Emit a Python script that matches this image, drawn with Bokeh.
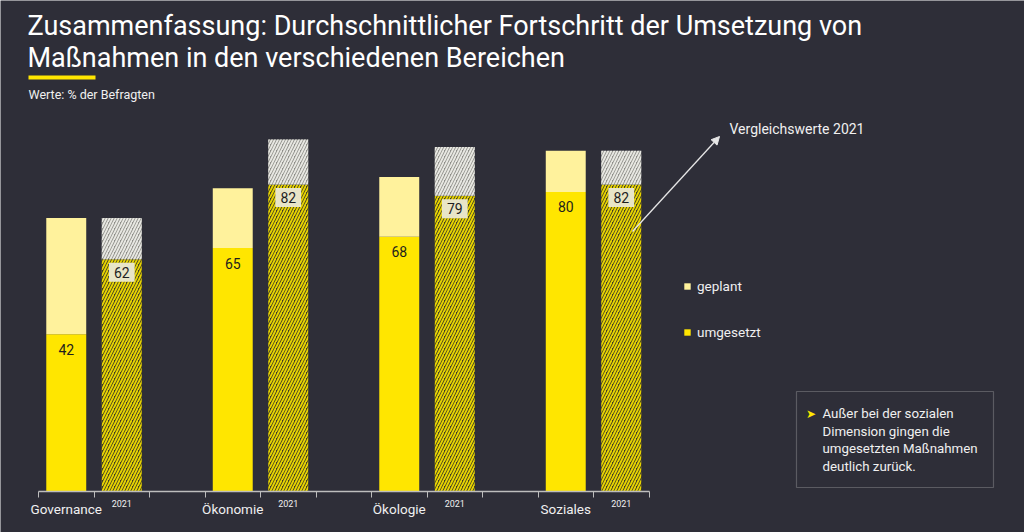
from bokeh.plotting import figure
from bokeh.models import (ColumnDataSource, Range1d, LinearAxis, FixedTicker, Label,
                          BoxAnnotation, Arrow, NormalHead, Legend, LegendItem)
from bokeh.core.properties import value
from bokeh.embed import file_html
from bokeh.resources import INLINE

# ---------------- data ----------------
categories = ["Governance", "Ökonomie", "Ökologie", "Soziales"]
umgesetzt = [42, 65, 68, 80]
geplant = [31, 16, 16, 11]
umgesetzt_2021 = [62, 82, 79, 82]
geplant_2021 = [11, 12, 13, 9]
year_label = "2021"

title_lines = ["Zusammenfassung: Durchschnittlicher Fortschritt der Umsetzung von",
               "Maßnahmen in den verschiedenen Bereichen"]
subtitle = "Werte: % der Befragten"
note_lines = ["Außer bei der sozialen", "Dimension gingen die",
              "umgesetzten Maßnahmen", "deutlich zurück."]
compare_text = "Vergleichswerte 2021"

# ---------------- style ----------------
W, H = 1024, 532
BG = "#2e2e38"
YELLOW = "#ffe600"
LIGHT = "#fff29c"
TXT = "#f0f0f0"
FONT = "Roboto"

slot_px, x0_px = 55.5, 38
unit_px, base_px = 3.745, 491

p = figure(width=W, height=H, output_backend="svg", toolbar_location=None,
           x_range=Range1d(-x0_px / slot_px, (W - x0_px) / slot_px),
           y_range=Range1d(-(H - base_px) / unit_px, base_px / unit_px),
           min_border=0, x_axis_type=None, y_axis_type=None)
p.background_fill_color = BG
p.border_fill_color = BG
p.outline_line_color = None

x_now = [3 * i + 0.5 for i in range(len(categories))]
x_prev = [3 * i + 1.5 for i in range(len(categories))]

src_now = ColumnDataSource(dict(x=x_now, umgesetzt=umgesetzt, geplant=geplant,
                                lab=[str(v) for v in umgesetzt]))
src_prev = ColumnDataSource(dict(x=x_prev, umgesetzt=umgesetzt_2021, geplant=geplant_2021,
                                 lab=[str(v) for v in umgesetzt_2021]))

r_now = p.vbar_stack(["umgesetzt", "geplant"], x="x", width=0.72, source=src_now,
                     fill_color=[YELLOW, LIGHT], line_color=None)
r_prev = p.vbar_stack(["umgesetzt", "geplant"], x="x", width=0.72, source=src_prev,
                      fill_color=["#3e3c26", "#8e8e8a"], hatch_color=["#e8d400", "#e8e8e2"],
                      hatch_pattern="/", hatch_scale=6, hatch_weight=1.9, line_color=None)

p.text(x="x", y="umgesetzt", text="lab", source=src_now, y_offset=15,
       text_align="center", text_baseline="middle", text_font=value(FONT),
       text_font_size="14px", text_color="#1e1e1e")
p.text(x="x", y="umgesetzt", text="lab", source=src_prev, y_offset=13,
       text_align="center", text_baseline="middle", text_font=value(FONT),
       text_font_size="14px", text_color="#1e1e1e",
       background_fill_color="#e8e5c8", padding=(5, 4))

# axes
ax = LinearAxis(fixed_location=0, bounds=(0, 11),
                ticker=FixedTicker(ticks=x_now, minor_ticks=list(range(12))),
                major_label_overrides={x: c for x, c in zip(x_now, categories)})
ax.axis_line_color = "#bdbdbd"
ax.axis_line_width = 1.5
ax.major_tick_line_color = None
ax.minor_tick_line_color = "#bdbdbd"
ax.minor_tick_in = 0
ax.minor_tick_out = 6
ax.major_label_standoff = 3
ax.major_label_text_font = FONT
ax.major_label_text_font_size = "13.5px"
ax.major_label_text_color = TXT
p.add_layout(ax, "below")

ax2 = LinearAxis(fixed_location=0, bounds=(0, 11),
                 ticker=FixedTicker(ticks=x_prev),
                 major_label_overrides={x: year_label for x in x_prev})
ax2.axis_line_color = None
ax2.major_tick_line_color = None
ax2.minor_tick_line_color = None
ax2.major_label_standoff = 2
ax2.major_label_text_font = FONT
ax2.major_label_text_font_size = "9px"
ax2.major_label_text_color = TXT
p.add_layout(ax2, "below")

# legend
legend = Legend(items=[LegendItem(label="geplant", renderers=[r_now[1]]),
                       LegendItem(label="umgesetzt", renderers=[r_now[0]])],
                location=(683, H - 340), orientation="vertical",
                glyph_width=8, glyph_height=8, label_height=16, spacing=30,
                padding=0, margin=0, label_standoff=6,
                label_text_font=FONT, label_text_font_size="13.5px", label_text_color=TXT,
                background_fill_alpha=0, border_line_color=None)
p.add_layout(legend, "center")


def lab(text, px, py, size, color=TXT, align="left", baseline="middle"):
    p.add_layout(Label(x=px, y=H - py, x_units="screen", y_units="screen", text=text,
                       text_font=FONT, text_font_size=size, text_color=color,
                       text_align=align, text_baseline=baseline))


lab(title_lines[0], 27, 25, "27px", "#ffffff")
lab(title_lines[1], 27, 57, "27px", "#ffffff")
p.add_layout(BoxAnnotation(left=28, right=95, top=H - 75, bottom=H - 79,
                           left_units="screen", right_units="screen",
                           top_units="screen", bottom_units="screen",
                           fill_color=YELLOW, fill_alpha=1, line_color=None))
lab(subtitle, 28, 94, "12.5px")

lab(compare_text, 729, 128, "14px")
p.add_layout(Arrow(x_start=632, y_start=H - 231, x_end=719, y_end=H - 136,
                   start_units="screen", end_units="screen",
                   line_color="#e6e6e6", line_width=1.3,
                   end=NormalHead(size=8, fill_color="#e6e6e6", line_color="#e6e6e6")))

p.add_layout(BoxAnnotation(left=796, right=993, top=H - 391, bottom=H - 487,
                           left_units="screen", right_units="screen",
                           top_units="screen", bottom_units="screen",
                           fill_alpha=0, line_color="#c4c4c4", line_width=1.2))
lab("➤", 805, 413, "12px", YELLOW)
for i, t in enumerate(note_lines):
    lab(t, 822, 413 + i * 17.5, "13.3px")

open("out.html", "w").write(file_html(p, INLINE))
